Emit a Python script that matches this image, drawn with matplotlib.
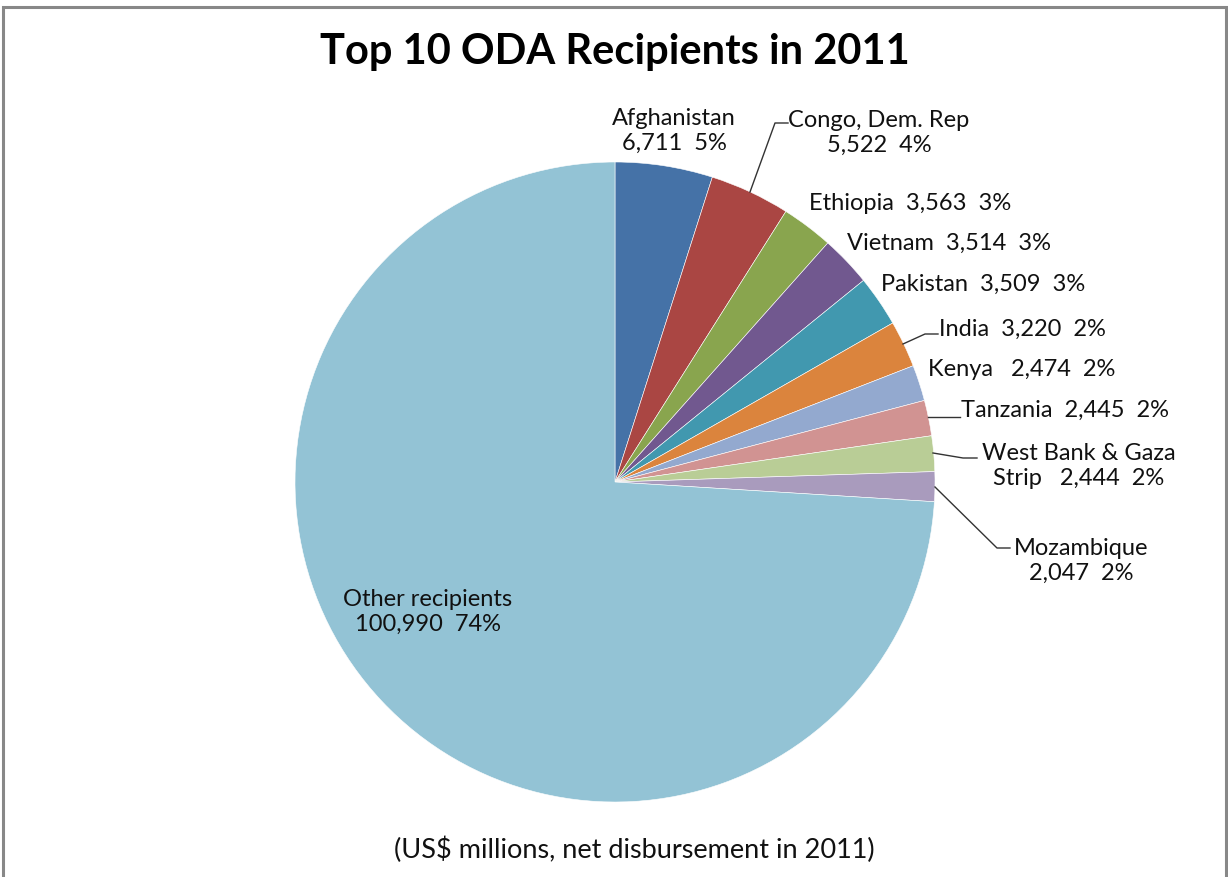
import matplotlib.pyplot as plt
from matplotlib.patches import Rectangle

plt.rcParams['font.family'] = ['Lato', 'DejaVu Sans']

# data
laender = ["Afghanistan", "Congo, Dem. Rep", "Ethiopia", "Vietnam", "Pakistan",
           "India", "Kenya", "Tanzania", "West Bank & Gaza Strip", "Mozambique",
           "Other recipients"]
verdier = [6711, 5522, 3563, 3514, 3509, 3220, 2474, 2445, 2444, 2047, 100990]
prosent = ["5%", "4%", "3%", "3%", "3%", "2%", "2%", "2%", "2%", "2%", "74%"]
farger = ["#4572A7", "#AA4643", "#89A54E", "#71588F", "#4198AF", "#DB843D",
          "#93A9CF", "#D19392", "#B9CD96", "#A99BBD", "#93C3D5"]

W, H = 1228, 877
fig = plt.figure(figsize=(W / 100, H / 100), dpi=100)
ax = fig.add_axes([0, 0, 1, 1])

# pixel coords, y flipped so top = 0
def py(y):
    return H - y

ax.pie(verdier, colors=farger, startangle=90, counterclock=False,
       center=(615, py(482)), radius=320,
       wedgeprops=dict(edgecolor="white", linewidth=0.4))
ax.set_xlim(0, W)
ax.set_ylim(0, H)
ax.set_aspect("auto")
ax.axis("off")

# ramme
ax.add_patch(Rectangle((3, -5), W - 5, H - 2, fill=False, edgecolor="#888888", linewidth=2.2))

def fmt(v):
    return f"{v:,}"

fs = 17
# tekst-etiketter: (x, y, ha, tekst)
etiketter = [
    (674, 131, "center", f"Afghanistan\n{fmt(verdier[0])}  {prosent[0]}"),
    (879, 133, "center", f"Congo, Dem. Rep\n{fmt(verdier[1])}  {prosent[1]}"),
    (809, 203, "left", f"Ethiopia  {fmt(verdier[2])}  {prosent[2]}"),
    (847, 243, "left", f"Vietnam  {fmt(verdier[3])}  {prosent[3]}"),
    (881, 284, "left", f"Pakistan  {fmt(verdier[4])}  {prosent[4]}"),
    (939, 329, "left", f"India  {fmt(verdier[5])}  {prosent[5]}"),
    (928, 370, "left", f"Kenya   {fmt(verdier[6])}  {prosent[6]}"),
    (961, 410, "left", f"Tanzania  {fmt(verdier[7])}  {prosent[7]}"),
    (1079, 466, "center", f"West Bank & Gaza\nStrip   {fmt(verdier[8])}  {prosent[8]}"),
    (1081, 561, "center", f"Mozambique\n{fmt(verdier[9])}  {prosent[9]}"),
    (428, 612, "center", f"Other recipients\n{fmt(verdier[10])}  {prosent[10]}"),
]
for x, y, ha, tekst in etiketter:
    ax.text(x, py(y), tekst, ha=ha, va="center", fontsize=fs, color="#111111",
            linespacing=1.25)

# leder-linjer
linjer = [
    [(750, 192), (775, 123), (788, 123)],
    [(903, 344), (925, 334), (938, 334)],
    [(928, 417), (960, 417)],
    [(933, 453), (963, 458), (977, 458)],
    [(935, 487), (997, 548), (1010, 548)],
]
for pts in linjer:
    ax.plot([p[0] for p in pts], [py(p[1]) for p in pts], color="#333333", linewidth=1)

ax.text(615, py(52), "Top 10 ODA Recipients in 2011", ha="center", va="center",
        fontsize=30, fontweight="bold", color="black")
ax.text(634, py(850), "(US$ millions, net disbursement in 2011)", ha="center",
        va="center", fontsize=19.5, color="#111111")

fig.savefig("out.png", dpi=100)
